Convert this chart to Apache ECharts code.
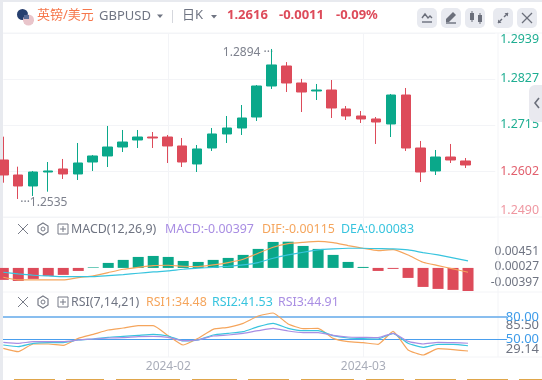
<!DOCTYPE html>
<html><head><meta charset="utf-8">
<style>html,body{margin:0;padding:0;background:#fff}#c{width:542px;height:380px}</style>
<script src="https://cdn.jsdelivr.net/npm/echarts@6/dist/echarts.min.js"></script>
</head><body><div id="c"></div>
<script>
const xLabels = ['','','','','','','','','','','','2024-02','','','','','','','','','','','','','2024-03','','','','','','','','',''];
// open, close, low, high
const candles = [
[1.26291,1.25925,1.25737,1.2686],[1.25925,1.25657,1.2534,1.26128],[1.25657,1.25998,1.25413,1.26023],[1.25998,1.26023,1.25518,1.26242],
[1.26072,1.2595,1.25828,1.26316],[1.2595,1.26218,1.25803,1.26706],[1.26242,1.26389,1.26023,1.26413],[1.26389,1.26608,1.2612,1.27121],
[1.26608,1.2673,1.26486,1.27023],[1.26779,1.26852,1.26584,1.27023],[1.26852,1.26828,1.26584,1.26974],[1.26852,1.26633,1.26218,1.26901],
[1.26633,1.26242,1.2612,1.26828],[1.26194,1.2656,1.25998,1.26657],[1.26584,1.26926,1.26511,1.27072],[1.26926,1.27072,1.26706,1.27365],
[1.27072,1.27316,1.26901,1.27633],[1.2734,1.28097,1.27243,1.28121],[1.28097,1.2861,1.28024,1.2900],[1.28585,1.2817,1.2795,1.2868],
[1.2817,1.2795,1.27462,1.2827],[1.27975,1.27999,1.27755,1.28146],[1.27999,1.2756,1.27316,1.28243],[1.27536,1.27365,1.27267,1.27609],
[1.27365,1.27292,1.27194,1.27487],[1.27292,1.27218,1.26682,1.2734],[1.2717,1.27877,1.26852,1.27902],[1.27877,1.26584,1.26511,1.28048],
[1.26584,1.25998,1.25754,1.26755],[1.26023,1.26364,1.25925,1.26535],[1.26364,1.26291,1.26218,1.26682],[1.26267,1.26169,1.26096,1.2634]];
const macdHist = [-.00206,-.00224,-.00189,-.00138,-.0012,-.00052,.0001,.00086,.00138,.00189,.00206,.00189,.0012,.00103,.00138,.00172,.00224,.00327,.00447,.00451,.00378,.00327,.00224,.00103,.00017,-.00052,-.00017,-.00172,-.00327,-.00361,-.00378,-.00397];
const dif = [-.0016,-.00206,-.00206,-.00206,-.00206,-.00166,-.00138,-.0008,-.00023,.00011,.0004,.00046,.00029,.00023,.00052,.00092,.00149,.00252,.00355,.00418,.00441,.00458,.00435,.00384,.00338,.00298,.00315,.00223,.00097,.0004,-.00017,-.00074];
const dea = [-.00074,-.00103,-.00126,-.00138,-.00149,-.00149,-.00149,-.00132,-.00115,-.00092,-.00069,-.00052,-.00023,-.00006,.00011,.00029,.00052,.00092,.00166,.00223,.00269,.00309,.00327,.00338,.00338,.00332,.00327,.00309,.00264,.00223,.00172,.0012];
const rsi1 = [38.09,33.62,43.91,43.91,42.12,51.51,56.88,62.69,65.38,68.51,68.51,55.09,42.56,51.51,63.59,66.27,71.64,81.48,85.5,70.75,64.48,64.93,51.51,47.04,45.7,43.46,60.9,35.86,29.15,37.65,36.3,34.48];
const rsi2 = [42.56,40.33,44.8,45.7,45.7,49.28,50.62,52.85,54.2,55.54,56.88,54.64,47.93,49.28,55.99,58.22,60.46,67.17,71.64,64.93,61.8,61.8,55.09,51.96,51.06,50.62,58.22,44.8,39.43,43.46,43.46,41.53];
const rsi3 = [46.14,44.8,47.04,47.04,47.04,49.28,50.62,51.96,52.41,53.75,54.2,52.85,48.38,49.28,54.64,55.99,58.22,61.8,64.93,61.35,59.12,59.12,55.54,53.3,52.85,52.41,58.22,47.49,43.91,46.14,45.7,44.91];
const priceTicks = [1.2490,1.2602,1.2715,1.2827,1.2939];
const macdTicks = [-0.00397,0.00027,0.00451];
const rsiTicks = [29.14,57.32,85.5];
const refLines = [80,50];

const UP='#0aa88a',DOWN='#dd4b5a',GRID='#f3f4f7',TXT='#6f7482';
const FONT='"Noto Sans","Noto Sans CJK SC",sans-serif';
const priceColor=v=>v>1.265?'#1fae92':(v>1.255?'#e2606e':'#ef97a1');
const txt=(x,y,text,fill,size,weight)=>({type:'text',x,y,silent:true,z:20,style:{text,fill,font:(weight||'normal')+' '+(size||12)+'px '+FONT,textVerticalAlign:'middle'}});
const rect=(x,y,w,h,fill,r)=>({type:'rect',silent:true,z:1,shape:{x,y,width:w,height:h,r:r||0},style:{fill}});
const line=(x1,y1,x2,y2,stroke,lw)=>({type:'line',silent:true,z:2,shape:{x1,y1,x2,y2},style:{stroke,lineWidth:lw||1}});
const tri=(x,y)=>({type:'polygon',silent:true,z:20,shape:{points:[[x,y],[x+6,y],[x+3,y+3.5]]},style:{fill:'#6f7482'}});
const rowIcons=y=>[
 line(18,y-5,28,y+5,'#777b87',1),line(28,y-5,18,y+5,'#777b87',1),
 {type:'polygon',silent:true,z:20,shape:{points:[[43,y-6],[48,y-3],[48,y+3],[43,y+6],[38,y+3],[38,y-3]]},style:{fill:'none',stroke:'#777b87',lineWidth:1.2}},
 {type:'circle',silent:true,z:20,shape:{cx:43,cy:y,r:2},style:{fill:'none',stroke:'#777b87',lineWidth:1}},
 {type:'rect',silent:true,z:20,shape:{x:58,y:y-5,width:10,height:10},style:{fill:'none',stroke:'#777b87',lineWidth:1}},
 line(60,y,66,y,'#777b87',1),line(63,y-3,63,y+3,'#777b87',1)];
const btn=[[417,0],[441,0],[465,0],[493,0],[517,0]].map(b=>rect(b[0],8,20,20,'#e8eaf0',5));
const strip=[[14,55],[66,104],[116,180],[192,237],[248,289],[301,354],[366,404],[415,456],[467,508],[519,542]].map(s=>rect(s[0],379,s[1]-s[0],1,'#dfa64a'));
const G='#6b6f7b';
const LEG=12.4;
const graphic=[
 rect(0,0,542,2,'#e8eaef'),rect(0,0,3,380,'#e8eaef'),
 line(3,33,542,33,GRID),line(3,217,542,217,GRID),line(3,292,542,292,GRID),line(3,357,542,357,GRID),
 line(498,33,498,357,GRID),
 ...strip,...btn,
 {type:'circle',silent:true,z:5,shape:{cx:22.5,cy:14.5,r:5.5},style:{fill:'#27406f'}},
 line(18,15,27.5,15,'#e8e8ee',2.4),line(22.5,9.5,22.5,20,'#e8e8ee',2.4),line(18,15,27.5,15,'#d2404f',1.2),line(22.5,9.5,22.5,20,'#d2404f',1.2),
 {type:'circle',silent:true,z:6,shape:{cx:28.5,cy:20,r:5.5},style:{fill:'#e9c5cb'}},
 line(24,18,33,18,'#d2505f',1.2),line(23.5,20.5,33.5,20.5,'#d2505f',1.2),line(24.5,23,32.5,23,'#d2505f',1.2),
 {type:'rect',silent:true,z:7,shape:{x:24,y:15,width:5,height:4},style:{fill:'#5a6c97'}},
 txt(37,15,'英镑/美元','#f6774c',13),
 txt(99,16.5,'GBPUSD',TXT,13),tri(157,14.5),
 line(172.5,10,172.5,23,'#d5d7dd'),
 txt(182,15,'日K',TXT,13),tri(211,15),
 txt(227,15.5,'1.2616',DOWN,13,'bold'),txt(279,15.5,'-0.0011',DOWN,13,'bold'),txt(336,15.5,'-0.09%',DOWN,13,'bold'),
 // toolbar icons
 line(422,22,432,22,G,1.4),{type:'polyline',silent:true,z:20,shape:{points:[[422,18],[425,14],[428,18],[430,16],[432,18]]},style:{fill:'none',stroke:G,lineWidth:1.4}},
 {type:'polygon',silent:true,z:20,shape:{points:[[446,19],[453,12],[456,15],[449,22],[446,22]]},style:{fill:G}},line(446,23,456,23,G,1.4),
 rect(470,13,4,7,G),line(472,11,472,22,G,1),rect(478,15,4,7,G),line(480,13,480,24,G,1),
 line(498,23,502,19,G,1.4),line(504,17,508,13,G,1.4),
 {type:'polygon',silent:true,z:20,shape:{points:[[498,23],[498,19.5],[501.5,23]]},style:{fill:G}},
 {type:'polygon',silent:true,z:20,shape:{points:[[508,13],[508,16.5],[504.5,13]]},style:{fill:G}},
 line(522,13,532,23,G,1.2),line(532,13,522,23,G,1.2),
 // side handle
 {type:'rect',silent:true,z:1,shape:{x:529,y:85,width:20,height:37,r:6},style:{fill:'#e9e9ef'}},
 {type:'polyline',silent:true,z:20,shape:{points:[[539,98],[535,103],[539,108]]},style:{fill:'none',stroke:G,lineWidth:1.6}},
 // indicator rows
 ...rowIcons(229),
 txt(71,229.5,'MACD(12,26,9)',TXT,LEG),txt(165,229.5,'MACD:-0.00397','#a98ee3',LEG),txt(262,229.5,'DIF:-0.00115','#f5a55c',LEG),txt(341,229.5,'DEA:0.00083','#38c4de',LEG),
 ...rowIcons(302),
 txt(71,302.5,'RSI(7,14,21)',TXT,LEG),txt(146,302.5,'RSI1:34.48','#f5a55c',LEG),txt(212,302.5,'RSI2:41.53','#38c4de',LEG),txt(278,302.5,'RSI3:44.91','#a98ee3',LEG)
];
const grids=[
 {left:3.3,width:495,top:33,height:184},
 {left:3.3,width:495,top:241.7,height:49.3},
 {left:3.3,width:495,top:313,height:42},
 {left:3.3,width:495,top:33,height:324}];
const hiddenX=i=>({type:'category',gridIndex:i,data:xLabels,boundaryGap:false,axisLine:{show:false},axisTick:{show:false},axisLabel:{show:false},splitLine:{show:false}});
const lineS=(name,data,color,x,y)=>({name,type:'line',data,xAxisIndex:x,yAxisIndex:y,symbol:'none',smooth:0.15,lineStyle:{color,width:1.2},z:5,silent:true,clip:false});
const labelFont={fontFamily:FONT,fontSize:12};
const BLUE50='#4a9fee',BLUE80='#62a9ea';
const option={animation:false,backgroundColor:'#fff',graphic,grid:grids,
 xAxis:[hiddenX(0),hiddenX(1),hiddenX(2),
  {type:'category',gridIndex:3,data:xLabels,boundaryGap:false,axisLine:{show:false},axisTick:{show:false},
   axisLabel:{interval:(i,v)=>v!=='',color:'#a9adb9',fontFamily:FONT,fontSize:12,margin:4,hideOverlap:false},
   splitLine:{show:true,interval:(i,v)=>v!=='',lineStyle:{color:GRID,width:1}}}],
 yAxis:[
  {type:'value',gridIndex:0,position:'right',min:1.2490,max:1.2939,axisLine:{show:false},axisTick:{show:false,customValues:priceTicks},
   axisLabel:{customValues:priceTicks,showMinLabel:true,showMaxLabel:true,verticalAlignMinLabel:'bottom',verticalAlignMaxLabel:'top',margin:5,align:'left',...labelFont,fontSize:12.4,
     formatter:v=>v.toFixed(4),color:v=>priceColor(v)},
   splitLine:{show:true,lineStyle:{color:GRID,width:1}}},
  {type:'value',gridIndex:1,position:'right',min:macdTicks[0],max:macdTicks[2],axisLine:{show:false},axisTick:{show:false,customValues:macdTicks},splitLine:{show:false},
   axisLabel:{customValues:macdTicks,showMinLabel:true,showMaxLabel:true,verticalAlignMinLabel:'bottom',verticalAlignMaxLabel:'top',margin:41,align:'right',...labelFont,color:TXT,
     formatter:v=>v>0.004?'{t|'+v.toFixed(5)+'}':v<0?'{m|'+v.toFixed(5)+'}':v.toFixed(5),
     rich:{t:{padding:[4,0,0,0],color:TXT,...labelFont},m:{padding:[0,0,2,0],color:TXT,...labelFont}}}},
  {type:'value',gridIndex:2,position:'right',min:rsiTicks[0],max:rsiTicks[2],axisLine:{show:false},axisTick:{show:false,customValues:rsiTicks},splitLine:{show:false},
   axisLabel:{customValues:rsiTicks,showMinLabel:true,showMaxLabel:true,hideOverlap:false,verticalAlignMaxLabel:'top',margin:41,align:'right',...labelFont,fontSize:13,color:TXT,
     formatter:v=>v>85?'{t|'+v.toFixed(2)+'}':v<30?'{m|'+v.toFixed(2)+'}':v.toFixed(2),
     rich:{t:{padding:[6,0,0,0],color:TXT,fontFamily:FONT,fontSize:13},m:{padding:[0,0,12,0],color:TXT,fontFamily:FONT,fontSize:13}}}},
  {type:'value',gridIndex:3,show:false},
  {type:'value',gridIndex:2,position:'right',offset:0,min:rsiTicks[0],max:rsiTicks[2],axisLine:{show:false},axisTick:{show:false,customValues:refLines},splitLine:{show:false},
   axisLabel:{customValues:refLines,showMinLabel:true,showMaxLabel:true,hideOverlap:false,margin:41,align:'right',fontFamily:FONT,fontSize:13,color:'#3d9be9',formatter:v=>v.toFixed(2)}}],
 series:[
  {type:'candlestick',data:candles,xAxisIndex:0,yAxisIndex:0,barWidth:10,silent:true,z:5,
   itemStyle:{color:UP,color0:DOWN,borderColor:UP,borderColor0:DOWN,borderWidth:1},
   markPoint:{silent:true,symbol:'circle',symbolSize:0,animation:false,data:[
     {coord:[18,1.2891],label:{show:true,position:'left',distance:0,offset:[1.5,0],formatter:'1.2894 ···',color:'#7d818d',fontFamily:FONT,fontSize:12}},
     {coord:[1,1.2534],label:{show:true,position:'right',distance:0,offset:[2,3.5],formatter:'···1.2535',color:'#7d818d',fontFamily:FONT,fontSize:12}}]}},
  {type:'bar',data:macdHist.map(v=>({value:v,itemStyle:{color:v>=0?UP:DOWN}})),xAxisIndex:1,yAxisIndex:1,barWidth:11,silent:true,z:3},
  lineS('DIF',dif,'#f5a55c',1,1),lineS('DEA',dea,'#38c4de',1,1),
  lineS('RSI1',rsi1,'#f5a55c',2,2),lineS('RSI2',rsi2,'#38c4de',2,2),lineS('RSI3',rsi3,'#a98ee3',2,2),
  {type:'line',data:[],xAxisIndex:2,yAxisIndex:2,silent:true,clip:false,z:4,
   markLine:{silent:true,symbol:'none',animation:false,label:{show:false},data:[
     [{x:3,yAxis:80,lineStyle:{color:BLUE80,width:1.6,type:'solid'}},{x:507,yAxis:80}]]}},
  {type:'line',data:[],xAxisIndex:2,yAxisIndex:2,silent:true,clip:false,z:4,
   markLine:{silent:true,symbol:'none',animation:false,label:{show:false},data:[
     [{x:3,yAxis:50,lineStyle:{color:BLUE50,width:1.2,type:'solid'}},{x:507,yAxis:50}]]}}
 ]};
const chart=echarts.init(document.getElementById('c'),null,{renderer:'canvas'});
chart.setOption(option);
</script></body></html>
